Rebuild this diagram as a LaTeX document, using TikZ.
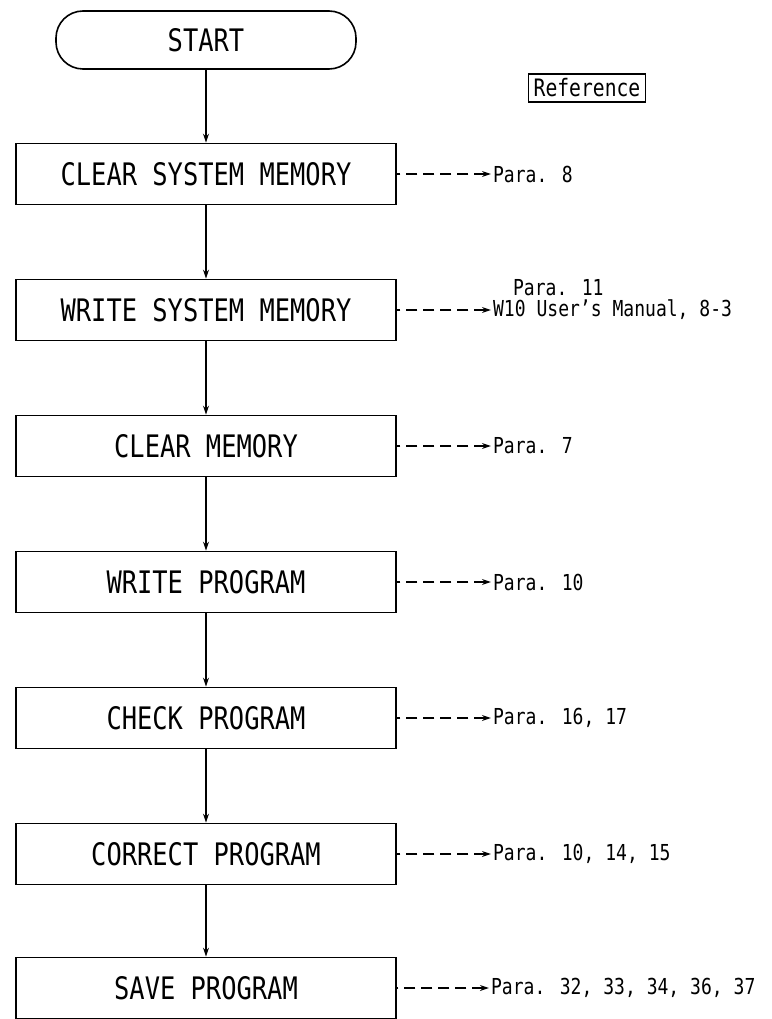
\documentclass[tikz,border=0pt]{standalone}
\usepackage{fontspec}
\setmainfont{DejaVu Sans Mono}[FakeStretch=0.82]
\usetikzlibrary{arrows.meta}

\tikzstyle{termnode}=[rectangle,rounded corners=27pt,draw,line width=1.6pt,minimum width=300pt,minimum height=58pt,font=\fontsize{31}{36}\selectfont]
\tikzstyle{stepnode}=[rectangle,draw,line width=1.8pt,minimum width=380pt,minimum height=61pt,font=\fontsize{31}{36}\selectfont]
\tikzstyle{refnode}=[inner sep=2pt,anchor=west,font=\fontsize{22}{21}\selectfont]
\tikzstyle{refbox}=[rectangle,draw,line width=1.6pt,inner sep=5pt,font=\fontsize{24}{26}\selectfont]
\tikzstyle{pre}=[<-,>={Stealth[length=9pt,width=6pt]},line width=1.2pt]
\tikzstyle{dpre}=[<-,>={Stealth[length=9pt,width=6pt]},line width=1.2pt,dash pattern=on 11pt off 6pt]

\begin{document}
\begin{tikzpicture}
        \useasboundingbox (0,0) rectangle (771pt,-1019pt);

        \node[termnode] (start) at (206pt,-40pt) {START};
        \node[refbox] (refhdr) at (587pt,-88pt) {Reference};

        \node[stepnode] (clrsys)   [below of=start,   node distance=134pt] {CLEAR SYSTEM MEMORY}
         edge[pre] (start);
        \node[stepnode] (wrsys)    [below of=clrsys,  node distance=136pt] {WRITE SYSTEM MEMORY}
         edge[pre] (clrsys);
        \node[stepnode] (clrmem)   [below of=wrsys,   node distance=136pt] {CLEAR MEMORY}
         edge[pre] (wrsys);
        \node[stepnode] (wrprog)   [below of=clrmem,  node distance=136pt] {WRITE PROGRAM}
         edge[pre] (clrmem);
        \node[stepnode] (chkprog)  [below of=wrprog,  node distance=136pt] {CHECK PROGRAM}
         edge[pre] (wrprog);
        \node[stepnode] (corprog)  [below of=chkprog, node distance=136pt] {CORRECT PROGRAM}
         edge[pre] (chkprog);
        \node[stepnode] (saveprog) [below of=corprog, node distance=134pt] {SAVE PROGRAM}
         edge[pre] (corprog);

        % references to the manual
        \node[refnode] (p8)  at ([xshift=94pt]clrsys.east)  {Para. 8}
         edge[dpre] (clrsys);
        \node[refnode,align=left] (p11) at ([xshift=94pt,yshift=10pt]wrsys.east)
         {\hspace{20pt}Para. 11\\W10 User's Manual, 8-3};
        \draw[dpre] (p11.west |- wrsys.east) -- (wrsys.east);
        \node[refnode] (p7)  at ([xshift=94pt]clrmem.east)  {Para. 7}
         edge[dpre] (clrmem);
        \node[refnode] (p10) at ([xshift=94pt]wrprog.east)  {Para. 10}
         edge[dpre] (wrprog);
        \node[refnode] (p16) at ([xshift=94pt]chkprog.east) {Para. 16, 17}
         edge[dpre] (chkprog);
        \node[refnode] (p14) at ([xshift=94pt]corprog.east) {Para. 10, 14, 15}
         edge[dpre] (corprog);
        \node[refnode] (p32) at ([xshift=92pt]saveprog.east) {Para. 32, 33, 34, 36, 37}
         edge[dpre] (saveprog);
\end{tikzpicture}
\end{document}
